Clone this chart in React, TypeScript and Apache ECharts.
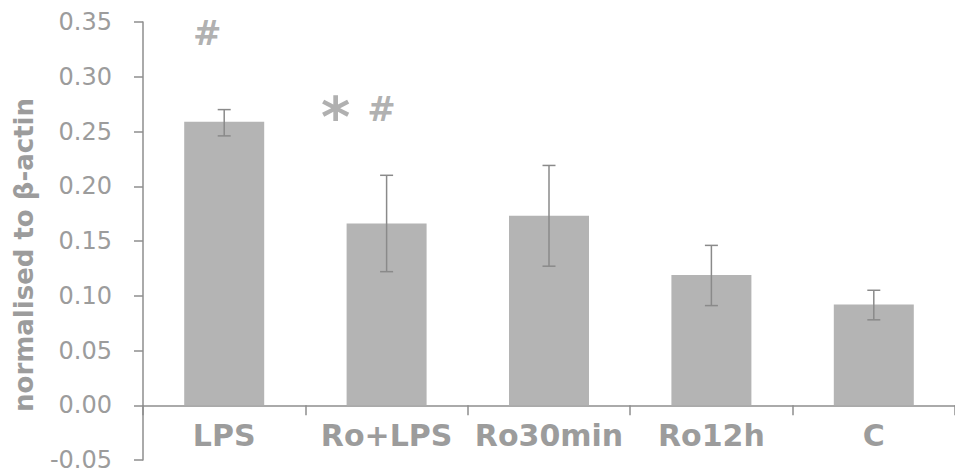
import React, { useEffect, useRef } from "react";
import * as echarts from "echarts";

const categories = ["LPS", "Ro+LPS", "Ro30min", "Ro12h", "C"];
const means = [0.259, 0.166, 0.173, 0.119, 0.092];
const errLow = [0.246, 0.122, 0.127, 0.091, 0.078];
const errHigh = [0.270, 0.210, 0.219, 0.146, 0.105];
const yTicks = { min: -0.05, max: 0.35, interval: 0.05 };
const annotationCats = [0, 1, 1];
const annotationValues = [0.340, 0.271, 0.271];
const annotationTexts = ["#", "*", "#"];

const annotationStyle = [
  { dx: -17, dy: 0, size: 34 },
  { dx: -51, dy: 8, size: 56 },
  { dx: -5, dy: 0, size: 34 },
];

const GREY_TEXT = "#9c9c9c";
const AXIS = "#8e8e8e";
const BAR = "#b4b4b4";
const FONT = "DejaVu Sans, Verdana, sans-serif";

export default function App() {
  const ref = useRef<HTMLDivElement>(null);
  useEffect(() => {
    if (!ref.current) return;
    const chart = echarts.init(ref.current, null, { renderer: "svg" });
    chart.setOption({
      animation: false,
      backgroundColor: "#ffffff",
      grid: { left: 143, right: 0, top: 22, bottom: 13, containLabel: false, outerBoundsMode: "none" },
      xAxis: {
        type: "category",
        data: categories,
        axisLine: { lineStyle: { color: AXIS, width: 1.5 } },
        axisTick: { show: true, interval: 0, length: 10, lineStyle: { color: AXIS, width: 1.5 } },
        axisLabel: {
          interval: 0,
          hideOverlap: false,
          color: GREY_TEXT,
          fontFamily: FONT,
          fontWeight: "bold",
          fontSize: 30,
          margin: -40,
        },
        splitLine: { show: false },
      },
      yAxis: {
        type: "value",
        min: yTicks.min,
        max: yTicks.max,
        interval: yTicks.interval,
        name: "normalised to β-actin",
        nameLocation: "middle",
        nameGap: 106,
        nameRotate: 90,
        nameTextStyle: {
          color: GREY_TEXT,
          fontFamily: FONT,
          fontWeight: "bold",
          fontSize: 26,
          padding: [0, 28, 0, 0],
        },
        axisLine: { show: true, lineStyle: { color: AXIS, width: 1.5 } },
        axisTick: { show: true, length: 9, lineStyle: { color: AXIS, width: 1.5 } },
        axisLabel: {
          color: GREY_TEXT,
          fontFamily: FONT,
          fontSize: 24,
          margin: 31,
          formatter: (v: number) => v.toFixed(2),
        },
        splitLine: { show: false },
      },
      series: [
        {
          type: "bar",
          data: means,
          barWidth: 80,
          itemStyle: { color: BAR },
          z: 2,
        },
        {
          type: "custom",
          data: categories.map((_, i) => [i, errLow[i], errHigh[i]]),
          z: 3,
          renderItem: (params: any, api: any) => {
            const x = api.value(0);
            const lo = api.coord([x, api.value(1)]);
            const hi = api.coord([x, api.value(2)]);
            const cap = 6.5;
            const style = { stroke: "#8a8a8a", lineWidth: 1.5 };
            return {
              type: "group",
              children: [
                { type: "line", shape: { x1: lo[0], y1: lo[1], x2: hi[0], y2: hi[1] }, style },
                { type: "line", shape: { x1: hi[0] - cap, y1: hi[1], x2: hi[0] + cap, y2: hi[1] }, style },
                { type: "line", shape: { x1: lo[0] - cap, y1: lo[1], x2: lo[0] + cap, y2: lo[1] }, style },
              ],
            };
          },
        },
        {
          type: "scatter",
          symbolSize: 0,
          z: 4,
          data: annotationTexts.map((t, i) => ({
            value: [annotationCats[i], annotationValues[i]],
            name: t,
            label: {
              offset: [annotationStyle[i].dx, annotationStyle[i].dy],
              fontSize: annotationStyle[i].size,
            },
          })),
          label: {
            show: true,
            position: "inside",
            align: "center",
            verticalAlign: "middle",
            formatter: (p: any) => p.name,
            color: GREY_TEXT,
            fontFamily: FONT,
            fontWeight: "bold",
          },
        },
      ],
    });
    return () => chart.dispose();
  }, []);
  return <div ref={ref} style={{ width: 955, height: 473, position: "absolute", left: 0, top: 0 }} />;
}
